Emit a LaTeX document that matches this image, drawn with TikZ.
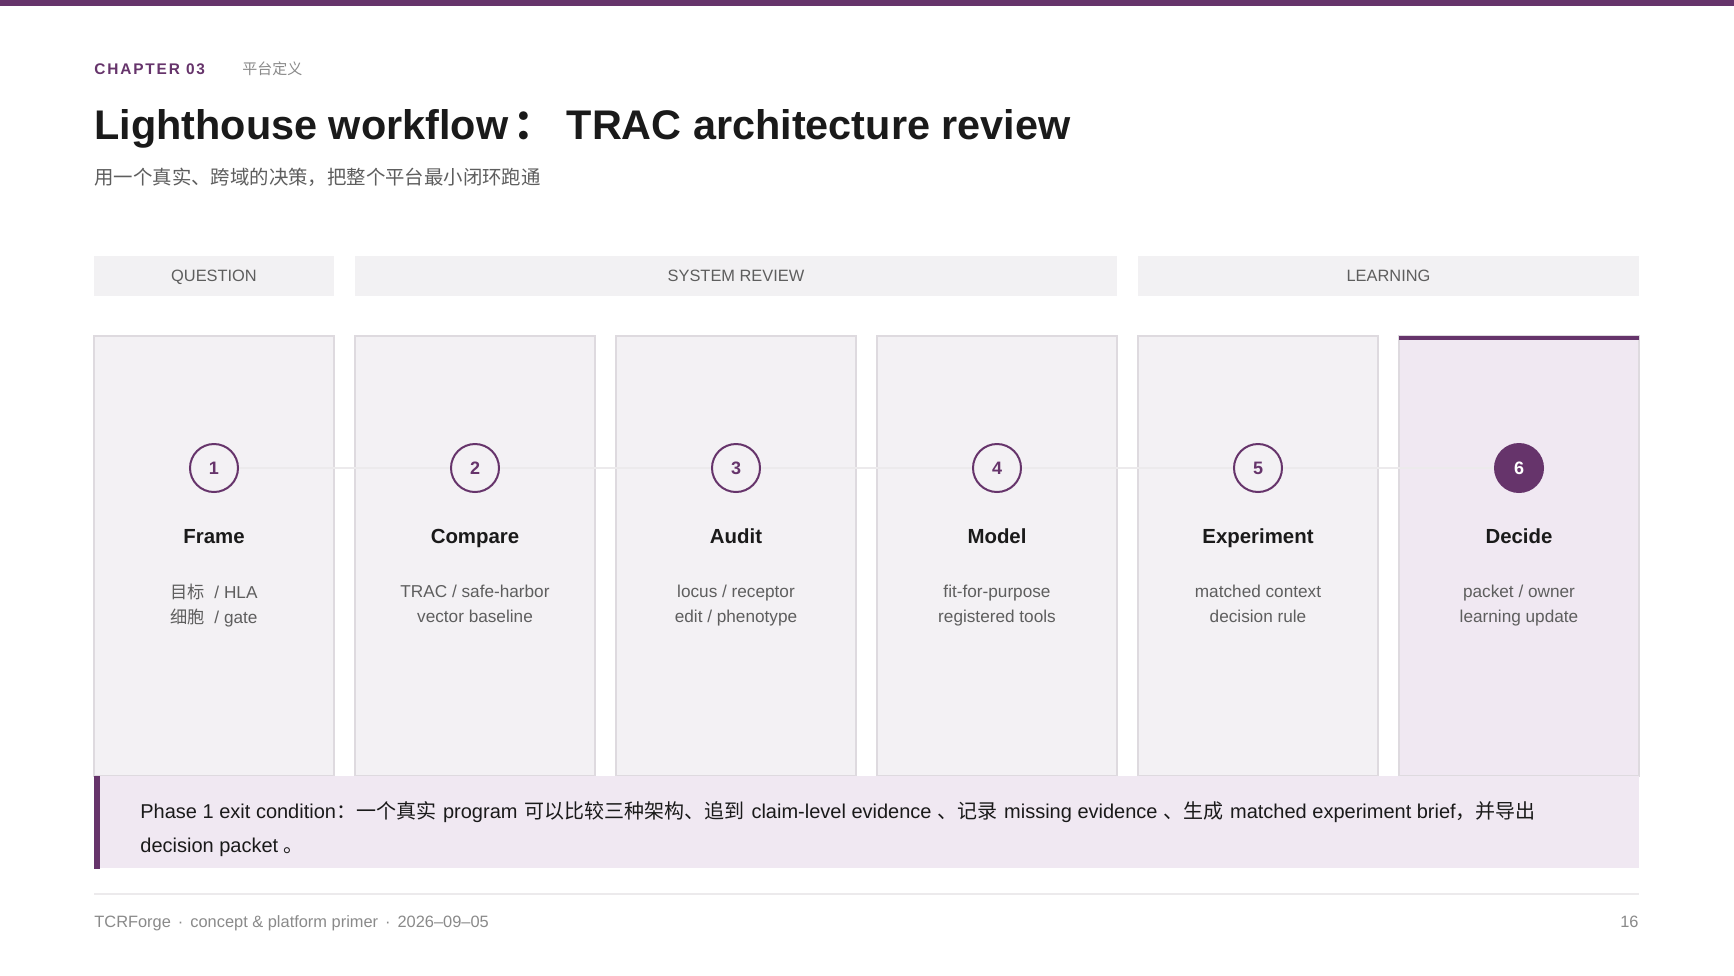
\documentclass[tikz,border=0pt]{standalone}
\usepackage{fontspec}
\setmainfont{Liberation Sans}
\newfontfamily\cjk{Noto Sans CJK SC}
\newfontfamily\chapfont[LetterSpace=12]{Liberation Sans}
\usepackage{xcolor}
\usetikzlibrary{positioning}

\definecolor{plum}{HTML}{66346B}
\definecolor{cardfill}{HTML}{F3F1F4}
\definecolor{lavender}{HTML}{F0E8F2}
\definecolor{bandfill}{HTML}{F2F1F3}
\definecolor{cardline}{HTML}{DEDADF}
\definecolor{inkdark}{HTML}{1A1A1A}
\definecolor{inkgray}{HTML}{5E5E5E}
\definecolor{inklight}{HTML}{8A8A8A}
\definecolor{rulegray}{HTML}{ECEAEC}

\newcommand{\zgap}{\hspace{3.5pt}}

\tikzset{
  cardbox/.style={draw=cardline, fill=cardfill, line width=0.6pt, anchor=north west,
    minimum width=120pt, minimum height=220pt, inner sep=0pt, outer sep=0pt},
  bandbox/.style={fill=bandfill, minimum height=20pt, inner sep=0pt, text=inkgray,
    text height=6pt, text depth=0pt, font=\fontsize{8.2}{10}\selectfont},
  stepdot/.style={circle, draw=plum, line width=1pt, fill=cardfill, minimum size=24pt,
    inner sep=0pt, text=plum, font=\bfseries\fontsize{9}{10}\selectfont},
  stepdone/.style={stepdot, fill=plum, text=white},
  steptitle/.style={anchor=base, text=inkdark, font=\bfseries\fontsize{10.2}{12}\selectfont},
  stepnote/.style={align=center, text=inkgray, font=\fontsize{8.6}{12.5}\selectfont},
  linkline/.style={draw=rulegray, line width=1pt},
  exitline/.style={anchor=base west, inner sep=0pt, text=inkdark, font=\fontsize{10}{12}\selectfont},
}

\begin{document}
\begin{tikzpicture}[x=0.5pt, y=-0.5pt]
    \fill[white] (0,0) rectangle (1734,975);
    \useasboundingbox (0,0) rectangle (1734,975);
    \fill[plum] (0,0) rectangle (1734,6);

    % heading
    \node[anchor=base west, inner sep=0pt, text=plum, font=\chapfont\bfseries\fontsize{7.7}{9}\selectfont] (chapter) at (94,74) {CHAPTER 03};
    \node[anchor=base west, inner sep=0pt, text=inklight, font=\cjk\fontsize{7.5}{9}\selectfont] (section) at (242,74) {平台定义};
    \node[anchor=base west, inner sep=0pt, text=inkdark, font=\bfseries\fontsize{20.7}{24}\selectfont] (title) at (94,139) {Lighthouse workflow\hspace{2.5pt}{\cjk ：}\hspace{6pt}TRAC architecture review};
    \node[anchor=base west, inner sep=0pt, text=inkgray, font=\cjk\fontsize{9.7}{12}\selectfont] (subtitle) at (94,184) {用一个真实、跨域的决策，把整个平台最小闭环跑通};

    % phase bands
    \node[bandbox, minimum width=120pt] (qband) at (214,275.5) {QUESTION};
    \node[bandbox, minimum width=381pt] (sband) at (736,275.5) {SYSTEM REVIEW};
    \node[bandbox, minimum width=250.5pt] (lband) at (1388.5,275.5) {LEARNING};

    % cards
    \foreach \i in {1,...,5}
        \node[cardbox] (card\i) at (94+261*\i-261,336) {};
    \node[cardbox, fill=lavender] (card6) at (1399,336) {};
    \draw[plum, line width=2pt] ([yshift=-1pt]card6.north west) -- ([yshift=-1pt]card6.north east);

    % steps
    \foreach \i/\word/\noteA/\noteB in {
        1/Frame/{{\cjk 目标}\ \ / HLA}/{{\cjk 细胞}\ \ / gate},
        2/Compare/{TRAC / safe-harbor}/{vector baseline},
        3/Audit/{locus / receptor}/{edit / phenotype},
        4/Model/{fit-for-purpose}/{registered tools},
        5/Experiment/{matched context}/{decision rule},
        6/Decide/{packet / owner}/{learning update}}
    {
        \ifnum\i=6
            \node[stepdone] (n\i) at (card\i.north |- 0,468) {\i};
        \else
            \node[stepdot] (n\i) at (card\i.north |- 0,468) {\i};
        \fi
        \node[steptitle] (t\i) at (card\i.north |- 0,543) {\word};
        \node[stepnote] (d\i) at (card\i.north |- 0,606) {\vphantom{Tgy}\noteA\\\vphantom{Tgy}\noteB};
    }
    \foreach \i/\j in {1/2,2/3,3/4,4/5,5/6}
        \draw[linkline] (n\i) -- (n\j);

    % exit condition
    \node[anchor=north west, fill=lavender, minimum width=772.5pt, minimum height=46pt, inner sep=0pt] (exitbar) at (94,776) {};
    \fill[plum] (exitbar.north west) rectangle ([xshift=3pt]exitbar.south west);
    \node[exitline] (exitA) at (140,818) {Phase 1 exit condition{\cjk ：一个真实}\zgap program\zgap{\cjk 可以比较三种架构、追到}\zgap claim-level evidence {\cjk 、记录}\zgap missing evidence {\cjk 、生成}\zgap matched experiment brief{\cjk ，并导出}};
    \node[exitline] (exitB) at (140,852) {decision packet {\cjk 。}};

    % footer
    \coordinate (footL) at (94,894);
    \coordinate (footR) at (1639,894);
    \draw[rulegray, line width=0.6pt] (footL) -- (footR);
    \node[anchor=base west, inner sep=0pt, text=inklight, font=\fontsize{8.2}{9}\selectfont] (credit) at (94,927) {TCRForge\zgap·\zgap concept \& platform primer\zgap·\zgap 2026--09--05};
    \node[anchor=base east, inner sep=0pt, text=inklight, font=\fontsize{8.2}{9}\selectfont] (page) at (1639,927) {16};
\end{tikzpicture}
\end{document}
